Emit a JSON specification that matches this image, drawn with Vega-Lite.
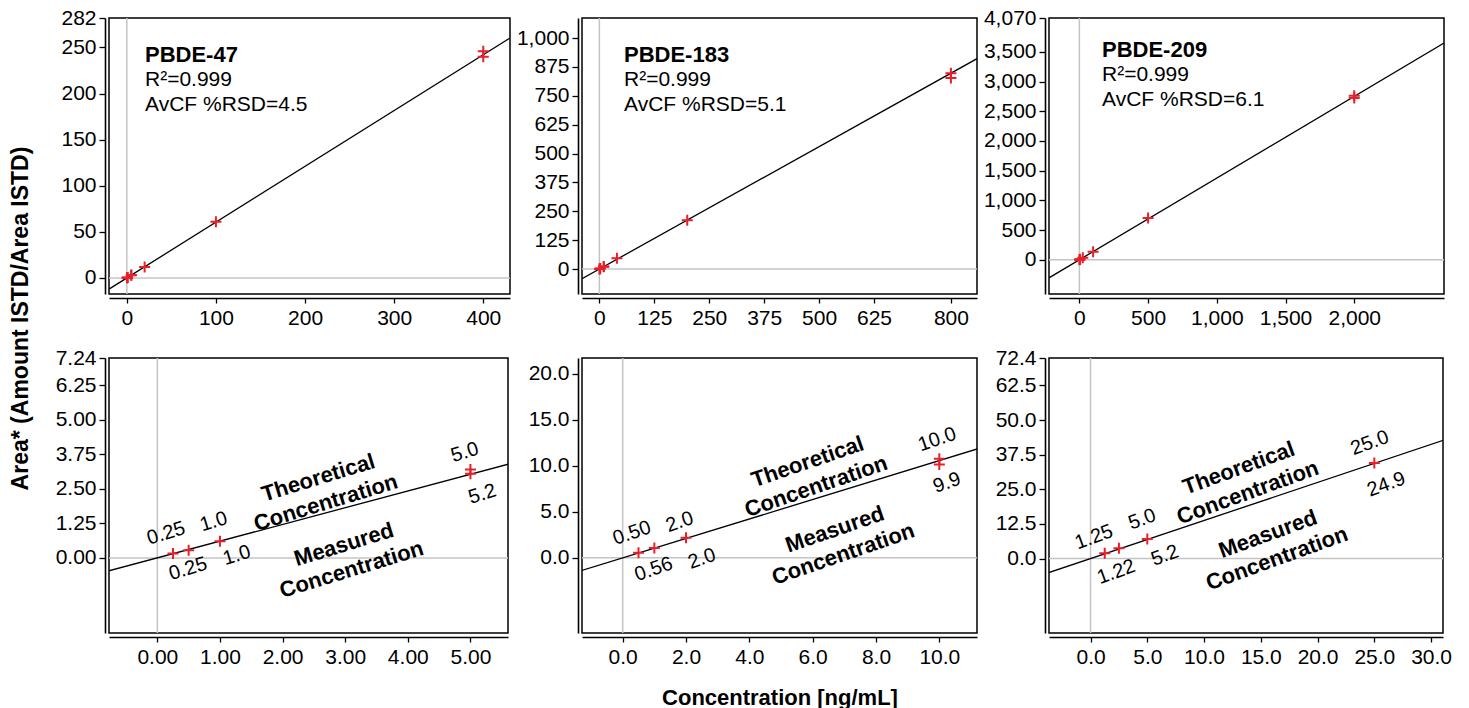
{
  "$schema": "https://vega.github.io/schema/vega-lite/v6.json",
  "background": "white",
  "padding": {"left": 8, "top": 6, "right": 5, "bottom": 5},
  "config": {
    "font": "Liberation Sans",
    "view": {"stroke": "black", "strokeWidth": 1.5},
    "axis": {"domainColor": "black", "domainWidth": 1.6, "tickColor": "black", "tickWidth": 1.3, "tickSize": 6, "labelFontSize": 21, "labelColor": "black", "labelFont": "Liberation Sans", "grid": false, "offset": 4, "labelOverlap": false, "labelFlush": false, "titleFontSize": 22, "titleFontWeight": "bold", "titleColor": "black", "titleFont": "Liberation Sans"},
    "axisX": {"labelPadding": 4, "tickSize": 5},
    "axisY": {"labelPadding": 3},
    "text": {"font": "Liberation Sans", "color": "black"},
    "title": {"anchor": "start", "frame": "group", "font": "Liberation Sans", "fontSize": 22, "fontWeight": "bold", "color": "black", "subtitleFont": "Liberation Sans", "subtitleFontSize": 21, "subtitleColor": "black", "subtitleFontWeight": "normal", "subtitleLineHeight": 25, "subtitlePadding": 2, "offset": 0}
  },
  "datasets": {
    "p47": [
      {"conc": 0.25, "resp": 0.16}, {"conc": 0.5, "resp": 0.28}, {"conc": 1, "resp": 0.6},
      {"conc": 5, "resp": 3.05}, {"conc": 5, "resp": 3.2}, {"conc": 20, "resp": 12},
      {"conc": 100, "resp": 61}, {"conc": 400, "resp": 246}, {"conc": 400, "resp": 240}
    ],
    "l47": [{"conc": -20, "resp": -12.1}, {"conc": 430, "resp": 260.2}],
    "p183": [
      {"conc": 0.5, "resp": 0.54}, {"conc": 1, "resp": 1.05}, {"conc": 2, "resp": 2.17},
      {"conc": 10, "resp": 10.76}, {"conc": 10, "resp": 10.15}, {"conc": 40, "resp": 47},
      {"conc": 200, "resp": 211}, {"conc": 800, "resp": 848}, {"conc": 800, "resp": 827}
    ],
    "l183": [{"conc": -39.5, "resp": -41.9}, {"conc": 859.4, "resp": 911}],
    "p209": [
      {"conc": 1.25, "resp": 1.9}, {"conc": 2.5, "resp": 3.7}, {"conc": 5, "resp": 7.0},
      {"conc": 25, "resp": 34.5}, {"conc": 100, "resp": 135}, {"conc": 500, "resp": 705},
      {"conc": 2000, "resp": 2760}, {"conc": 2000, "resp": 2722}
    ],
    "l209": [{"conc": -221, "resp": -303.9}, {"conc": 2653, "resp": 3647.9}],
    "n47": [
      {"conc": 0.14, "resp": 0.89, "label": "0.25"}, {"conc": 0.9, "resp": 1.31, "label": "1.0"},
      {"conc": 0.49, "resp": -0.4, "label": "0.25"}, {"conc": 1.27, "resp": 0.09, "label": "1.0"},
      {"conc": 4.91, "resp": 3.82, "label": "5.0"}, {"conc": 5.19, "resp": 2.31, "label": "5.2"}
    ],
    "b47": [
      {"conc": 2.57, "resp": 2.9, "label": "Theoretical\nConcentration"},
      {"conc": 2.98, "resp": 0.48, "label": "Measured\nConcentration"}
    ],
    "n183": [
      {"conc": 0.29, "resp": 2.68, "label": "0.50"}, {"conc": 1.8, "resp": 3.88, "label": "2.0"},
      {"conc": 0.98, "resp": -1.26, "label": "0.56"}, {"conc": 2.5, "resp": -0.11, "label": "2.0"},
      {"conc": 9.93, "resp": 12.87, "label": "10.0"}, {"conc": 10.24, "resp": 8.15, "label": "9.9"}
    ],
    "b183": [
      {"conc": 5.84, "resp": 10.43, "label": "Theoretical\nConcentration"},
      {"conc": 6.7, "resp": 3.07, "label": "Measured\nConcentration"}
    ],
    "n209": [
      {"conc": 0.3, "resp": 7.67, "label": "1.25"}, {"conc": 4.55, "resp": 14.15, "label": "5.0"},
      {"conc": 2.26, "resp": -4.9, "label": "1.22"}, {"conc": 6.55, "resp": 1.08, "label": "5.2"},
      {"conc": 24.6, "resp": 41.7, "label": "25.0"}, {"conc": 26.06, "resp": 26.7, "label": "24.9"}
    ],
    "b209": [
      {"conc": 13.06, "resp": 32.64, "label": "Theoretical\nConcentration"},
      {"conc": 15.63, "resp": 8.82, "label": "Measured\nConcentration"}
    ]
  },
  "columns": 3,
  "spacing": {"row": 64, "column": 72},
  "bounds": "flush",
  "concat": [
    {
      "width": 401, "height": 276,
      "title": {"text": "PBDE-47", "subtitle": ["R²=0.999", "AvCF %RSD=4.5"], "dx": 36, "dy": 113},
      "layer": [
        {"data": {"values": [{}]}, "mark": {"type": "rule", "color": "#c4c4c4", "strokeWidth": 1.5}, "encoding": {"x": {"datum": 0, "type": "quantitative"}}},
        {"data": {"values": [{}]}, "mark": {"type": "rule", "color": "#c4c4c4", "strokeWidth": 1.5}, "encoding": {"y": {"datum": 0, "type": "quantitative"}}},
        {"data": {"name": "l47"}, "mark": {"type": "line", "color": "black", "strokeWidth": 1.3, "clip": true}, "encoding": {"x": {"field": "conc", "type": "quantitative"}, "y": {"field": "resp", "type": "quantitative"}}},
        {"data": {"name": "p47"}, "mark": {"type": "point", "shape": "M-1,0L1,0M0,-1L0,1", "size": 121, "filled": false, "stroke": "#e8202a", "strokeWidth": 2, "opacity": 1, "clip": true},
         "encoding": {
           "x": {"field": "conc", "type": "quantitative", "scale": {"domain": [-20, 430], "nice": false, "zero": false}, "axis": {"values": [0, 100, 200, 300, 400], "tickCount": 30, "format": "d", "title": null, "labelOverlap": false}},
           "y": {"field": "resp", "type": "quantitative", "scale": {"domain": [-17.4, 282], "nice": false, "zero": false}, "axis": {"values": [0, 50, 100, 150, 200, 250, 282], "tickCount": 30, "format": "d", "title": null, "labelOverlap": false}}
         }}
      ]
    },
    {
      "width": 395, "height": 276,
      "title": {"text": "PBDE-183", "subtitle": ["R²=0.999", "AvCF %RSD=5.1"], "dx": 42, "dy": 103},
      "layer": [
        {"data": {"values": [{}]}, "mark": {"type": "rule", "color": "#c4c4c4", "strokeWidth": 1.5}, "encoding": {"x": {"datum": 0, "type": "quantitative"}}},
        {"data": {"values": [{}]}, "mark": {"type": "rule", "color": "#c4c4c4", "strokeWidth": 1.5}, "encoding": {"y": {"datum": 0, "type": "quantitative"}}},
        {"data": {"name": "l183"}, "mark": {"type": "line", "color": "black", "strokeWidth": 1.3, "clip": true}, "encoding": {"x": {"field": "conc", "type": "quantitative"}, "y": {"field": "resp", "type": "quantitative"}}},
        {"data": {"name": "p183"}, "mark": {"type": "point", "shape": "M-1,0L1,0M0,-1L0,1", "size": 121, "filled": false, "stroke": "#e8202a", "strokeWidth": 2, "opacity": 1, "clip": true},
         "encoding": {
           "x": {"field": "conc", "type": "quantitative", "scale": {"domain": [-39.5, 859.4], "nice": false, "zero": false}, "axis": {"values": [0, 125, 250, 375, 500, 625, 800], "tickCount": 30, "format": "d", "title": null, "labelOverlap": false}},
           "y": {"field": "resp", "type": "quantitative", "scale": {"domain": [-108, 1087], "nice": false, "zero": false}, "axis": {"values": [0, 125, 250, 375, 500, 625, 750, 875, 1000], "tickCount": 30, "format": ",d", "title": null, "labelOverlap": false}}
         }}
      ]
    },
    {
      "width": 395, "height": 276,
      "title": {"text": "PBDE-209", "subtitle": ["R²=0.999", "AvCF %RSD=6.1"], "dx": 53, "dy": 108},
      "layer": [
        {"data": {"values": [{}]}, "mark": {"type": "rule", "color": "#c4c4c4", "strokeWidth": 1.5}, "encoding": {"x": {"datum": 0, "type": "quantitative"}}},
        {"data": {"values": [{}]}, "mark": {"type": "rule", "color": "#c4c4c4", "strokeWidth": 1.5}, "encoding": {"y": {"datum": 0, "type": "quantitative"}}},
        {"data": {"name": "l209"}, "mark": {"type": "line", "color": "black", "strokeWidth": 1.3, "clip": true}, "encoding": {"x": {"field": "conc", "type": "quantitative"}, "y": {"field": "resp", "type": "quantitative"}}},
        {"data": {"name": "p209"}, "mark": {"type": "point", "shape": "M-1,0L1,0M0,-1L0,1", "size": 121, "filled": false, "stroke": "#e8202a", "strokeWidth": 2, "opacity": 1, "clip": true},
         "encoding": {
           "x": {"field": "conc", "type": "quantitative", "scale": {"domain": [-221, 2653], "nice": false, "zero": false}, "axis": {"values": [0, 500, 1000, 1500, 2000], "tickCount": 30, "format": ",d", "title": null, "labelOverlap": false}},
           "y": {"field": "resp", "type": "quantitative", "scale": {"domain": [-576, 4070], "nice": false, "zero": false}, "axis": {"values": [0, 500, 1000, 1500, 2000, 2500, 3000, 3500, 4070], "tickCount": 30, "format": ",d", "title": null, "labelOverlap": false}}
         }}
      ]
    },
    {
      "width": 399, "height": 275,
      "layer": [
        {"data": {"values": [{}]}, "mark": {"type": "rule", "color": "#c4c4c4", "strokeWidth": 1.5}, "encoding": {"x": {"datum": 0, "type": "quantitative"}}},
        {"data": {"values": [{}]}, "mark": {"type": "rule", "color": "#c4c4c4", "strokeWidth": 1.5}, "encoding": {"y": {"datum": 0, "type": "quantitative"}}},
        {"data": {"name": "l47"}, "mark": {"type": "line", "color": "black", "strokeWidth": 1.3, "clip": true}, "encoding": {"x": {"field": "conc", "type": "quantitative"}, "y": {"field": "resp", "type": "quantitative"}}},
        {"data": {"name": "p47"}, "mark": {"type": "point", "shape": "M-1,0L1,0M0,-1L0,1", "size": 121, "filled": false, "stroke": "#e8202a", "strokeWidth": 2, "opacity": 1, "clip": true},
         "encoding": {
           "x": {"field": "conc", "type": "quantitative", "scale": {"domain": [-0.772, 5.6], "nice": false, "zero": false}, "axis": {"values": [0, 1, 2, 3, 4, 5], "tickCount": 30, "format": ".2f", "title": null, "labelOverlap": false}},
           "y": {"field": "resp", "type": "quantitative", "scale": {"domain": [-2.72, 7.24], "nice": false, "zero": false}, "axis": {"values": [0, 1.25, 2.5, 3.75, 5, 6.25, 7.24], "tickCount": 30, "format": ".2f", "labelOverlap": false, "title": "Area* (Amount ISTD/Area ISTD)", "titleFontSize": 23, "titleX": -73, "titleY": -40, "titleAngle": 270, "titleAlign": "center", "titleBaseline": "bottom"}}
         }},
        {"data": {"name": "n47"}, "mark": {"type": "text", "angle": 343, "fontSize": 20, "align": "center", "baseline": "middle"}, "encoding": {"x": {"field": "conc", "type": "quantitative"}, "y": {"field": "resp", "type": "quantitative"}, "text": {"field": "label"}}},
        {"data": {"name": "b47"}, "mark": {"type": "text", "angle": 343, "fontSize": 22, "fontWeight": "bold", "align": "center", "baseline": "middle", "lineBreak": "\n", "lineHeight": 26}, "encoding": {"x": {"field": "conc", "type": "quantitative"}, "y": {"field": "resp", "type": "quantitative"}, "text": {"field": "label"}}}
      ]
    },
    {
      "width": 395, "height": 275,
      "layer": [
        {"data": {"values": [{}]}, "mark": {"type": "rule", "color": "#c4c4c4", "strokeWidth": 1.5}, "encoding": {"x": {"datum": 0, "type": "quantitative"}}},
        {"data": {"values": [{}]}, "mark": {"type": "rule", "color": "#c4c4c4", "strokeWidth": 1.5}, "encoding": {"y": {"datum": 0, "type": "quantitative"}}},
        {"data": {"name": "l183"}, "mark": {"type": "line", "color": "black", "strokeWidth": 1.3, "clip": true}, "encoding": {"x": {"field": "conc", "type": "quantitative"}, "y": {"field": "resp", "type": "quantitative"}}},
        {"data": {"name": "p183"}, "mark": {"type": "point", "shape": "M-1,0L1,0M0,-1L0,1", "size": 121, "filled": false, "stroke": "#e8202a", "strokeWidth": 2, "opacity": 1, "clip": true},
         "encoding": {
           "x": {"field": "conc", "type": "quantitative", "scale": {"domain": [-1.285, 11.19], "nice": false, "zero": false}, "axis": {"values": [0, 2, 4, 6, 8, 10], "tickCount": 30, "format": ".1f", "labelOverlap": false, "title": "Concentration [ng/mL]", "titleBaseline": "alphabetic", "titleY": 67}},
           "y": {"field": "resp", "type": "quantitative", "scale": {"domain": [-8.2, 21.74], "nice": false, "zero": false}, "axis": {"values": [0, 5, 10, 15, 20], "tickCount": 30, "format": ".1f", "title": null, "labelOverlap": false}}
         }},
        {"data": {"name": "n183"}, "mark": {"type": "text", "angle": 341, "fontSize": 20, "align": "center", "baseline": "middle"}, "encoding": {"x": {"field": "conc", "type": "quantitative"}, "y": {"field": "resp", "type": "quantitative"}, "text": {"field": "label"}}},
        {"data": {"name": "b183"}, "mark": {"type": "text", "angle": 341, "fontSize": 22, "fontWeight": "bold", "align": "center", "baseline": "middle", "lineBreak": "\n", "lineHeight": 26}, "encoding": {"x": {"field": "conc", "type": "quantitative"}, "y": {"field": "resp", "type": "quantitative"}, "text": {"field": "label"}}}
      ]
    },
    {
      "width": 394, "height": 275,
      "layer": [
        {"data": {"values": [{}]}, "mark": {"type": "rule", "color": "#c4c4c4", "strokeWidth": 1.5}, "encoding": {"x": {"datum": 0, "type": "quantitative"}}},
        {"data": {"values": [{}]}, "mark": {"type": "rule", "color": "#c4c4c4", "strokeWidth": 1.5}, "encoding": {"y": {"datum": 0, "type": "quantitative"}}},
        {"data": {"name": "l209"}, "mark": {"type": "line", "color": "black", "strokeWidth": 1.3, "clip": true}, "encoding": {"x": {"field": "conc", "type": "quantitative"}, "y": {"field": "resp", "type": "quantitative"}}},
        {"data": {"name": "p209"}, "mark": {"type": "point", "shape": "M-1,0L1,0M0,-1L0,1", "size": 121, "filled": false, "stroke": "#e8202a", "strokeWidth": 2, "opacity": 1, "clip": true},
         "encoding": {
           "x": {"field": "conc", "type": "quantitative", "scale": {"domain": [-3.66, 31.05], "nice": false, "zero": false}, "axis": {"values": [0, 5, 10, 15, 20, 25, 30], "tickCount": 30, "format": ".1f", "title": null, "labelOverlap": false}},
           "y": {"field": "resp", "type": "quantitative", "scale": {"domain": [-26.9, 72.4], "nice": false, "zero": false}, "axis": {"values": [0, 12.5, 25, 37.5, 50, 62.5, 72.4], "tickCount": 30, "format": ".1f", "title": null, "labelOverlap": false}}
         }},
        {"data": {"name": "n209"}, "mark": {"type": "text", "angle": 340, "fontSize": 20, "align": "center", "baseline": "middle"}, "encoding": {"x": {"field": "conc", "type": "quantitative"}, "y": {"field": "resp", "type": "quantitative"}, "text": {"field": "label"}}},
        {"data": {"name": "b209"}, "mark": {"type": "text", "angle": 340, "fontSize": 22, "fontWeight": "bold", "align": "center", "baseline": "middle", "lineBreak": "\n", "lineHeight": 26}, "encoding": {"x": {"field": "conc", "type": "quantitative"}, "y": {"field": "resp", "type": "quantitative"}, "text": {"field": "label"}}}
      ]
    }
  ]
}
